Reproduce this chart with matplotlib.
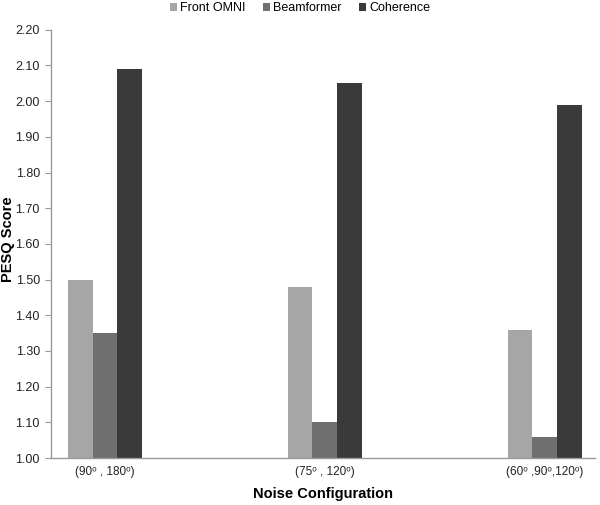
import numpy as np
import matplotlib.pyplot as plt

plt.rcParams['font.family'] = ['Liberation Sans', 'DejaVu Sans']

# datos
configuraciones = ["(90\u1d52 , 180\u1d52)", "(75\u1d52 , 120\u1d52)", "(60\u1d52 ,90\u1d52,120\u1d52)"]
front_omni = [1.50, 1.48, 1.36]
beamformer = [1.35, 1.10, 1.06]
coherence = [2.09, 2.05, 1.99]

series = ["Front OMNI", "Beamformer", "Coherence"]
colores = ["#a6a6a6", "#6f6f6f", "#3a3a3a"]

fig = plt.figure(figsize=(6, 5.05), dpi=100)
ax = fig.add_axes([0.085, 0.093, 0.907, 0.848])

x = np.arange(len(configuraciones))
ancho = 0.112
for i, (nombre, valores) in enumerate(zip(series, [front_omni, beamformer, coherence])):
    ax.bar(x + (i - 1) * ancho, np.array(valores) - 1.0, ancho, bottom=1.0,
           color=colores[i], label=nombre)

ax.set_xlim(-0.245, 2.23)
ax.set_ylim(1.0, 2.2)
ax.set_yticks(np.arange(1.0, 2.21, 0.1))
ax.set_yticklabels([f"{v:.2f}" for v in np.arange(1.0, 2.21, 0.1)])
ax.set_xticks(x)
ax.set_xticklabels(configuraciones)
ax.tick_params(axis='x', length=0, pad=6, labelsize=8.5, colors='#222222')
ax.tick_params(axis='y', length=4, width=0.8, color='#999999', labelsize=9,
               labelcolor='#222222', pad=4)

for lado in ['top', 'right']:
    ax.spines[lado].set_visible(False)
for lado in ['left', 'bottom']:
    ax.spines[lado].set_color('#999999')
    ax.spines[lado].set_linewidth(1.0)

ax.set_xlabel("Noise Configuration", fontsize=10.5, fontweight='bold')
ax.set_ylabel("PESQ Score", fontsize=10.5, fontweight='bold')
ax.xaxis.set_label_coords(0.5, -0.068)
ax.yaxis.set_label_coords(-0.066, 0.51)

fig.legend(loc='upper center', bbox_to_anchor=(0.5, 1.018), ncol=3, frameon=False,
           fontsize=9, handlelength=0.55, handleheight=0.55, handletextpad=0.3,
           columnspacing=1.35)

plt.savefig("out.png", dpi=100)
